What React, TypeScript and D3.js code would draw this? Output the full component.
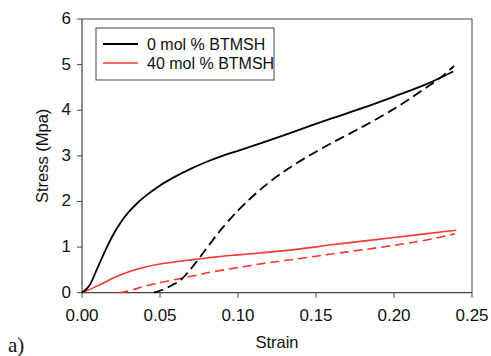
import React from "react";
import * as d3 from "d3";

const blackSolidX = [0, 0.005, 0.01, 0.015, 0.02, 0.025, 0.03, 0.035, 0.04, 0.05, 0.06, 0.07, 0.08, 0.09, 0.1, 0.12, 0.14, 0.16, 0.18, 0.2, 0.22, 0.238];
const blackSolidY = [0, 0.17, 0.55, 0.93, 1.27, 1.55, 1.77, 1.95, 2.1, 2.35, 2.55, 2.72, 2.87, 3.0, 3.11, 3.34, 3.58, 3.82, 4.05, 4.3, 4.56, 4.85];

const blackDashX = [0.046, 0.052, 0.058, 0.063, 0.068, 0.075, 0.08, 0.09, 0.1, 0.11, 0.12, 0.13, 0.14, 0.15, 0.16, 0.17, 0.18, 0.19, 0.2, 0.21, 0.22, 0.23, 0.2385];
const blackDashY = [0, 0.07, 0.17, 0.27, 0.45, 0.75, 0.98, 1.42, 1.8, 2.13, 2.42, 2.67, 2.89, 3.09, 3.28, 3.46, 3.64, 3.83, 4.03, 4.25, 4.48, 4.72, 4.97];

const redSolidX = [0, 0.01, 0.02, 0.03, 0.04, 0.05, 0.06, 0.07, 0.08, 0.09, 0.1, 0.12, 0.14, 0.16, 0.18, 0.2, 0.22, 0.24];
const redSolidY = [0, 0.15, 0.32, 0.46, 0.56, 0.63, 0.68, 0.72, 0.76, 0.8, 0.83, 0.89, 0.96, 1.05, 1.13, 1.21, 1.29, 1.37];

const redDashX = [0.024, 0.03, 0.04, 0.05, 0.06, 0.07, 0.084, 0.1, 0.12, 0.14, 0.16, 0.18, 0.2, 0.22, 0.239];
const redDashY = [0, 0.04, 0.14, 0.22, 0.29, 0.36, 0.46, 0.55, 0.66, 0.75, 0.85, 0.94, 1.04, 1.15, 1.29];

const xTicks = [0, 0.05, 0.1, 0.15, 0.2, 0.25];
const yTicks = [0, 1, 2, 3, 4, 5, 6];
const legendLabels = ["0 mol % BTMSH", "40 mol % BTMSH"];

const W = 491;
const H = 356;
const left = 82, right = 472, top = 19, bottom = 292.7;

export default function App() {
  const x = d3.scaleLinear().domain([0, 0.25]).range([left, right]);
  const y = d3.scaleLinear().domain([0, 6]).range([bottom, top]);
  const line = d3
    .line<[number, number]>()
    .x((d) => x(d[0]))
    .y((d) => y(d[1]))
    .curve(d3.curveMonotoneX);
  const zip = (a: number[], b: number[]) => a.map((v, i) => [v, b[i]] as [number, number]);
  const font = "Liberation Sans, Arial, sans-serif";
  const axisColor = "#444";
  return (
    <svg
      width={W}
      height={H}
      style={{ position: "absolute", left: 0, top: 0, background: "#fff" }}
    >
      <rect x={0} y={0} width={W} height={H} fill="#fff" />
      {/* frame */}
      <line x1={left} y1={top} x2={right} y2={top} stroke={axisColor} strokeWidth={1} />
      <line x1={right} y1={top} x2={right} y2={bottom} stroke={axisColor} strokeWidth={1} />
      <line x1={left} y1={top} x2={left} y2={bottom} stroke={axisColor} strokeWidth={1.2} />
      <line x1={left} y1={bottom} x2={right} y2={bottom} stroke={axisColor} strokeWidth={1.2} />
      {yTicks.map((t) => (
        <g key={"y" + t}>
          <line x1={left - 5} x2={left} y1={y(t)} y2={y(t)} stroke={axisColor} />
          <text
            x={left - 11}
            y={y(t)}
            dy={5}
            textAnchor="end"
            fontFamily={font}
            fontSize={17}
            fill="#111"
          >
            {t}
          </text>
        </g>
      ))}
      {xTicks.map((t) => (
        <g key={"x" + t}>
          <line x1={x(t)} x2={x(t)} y1={bottom} y2={bottom + 5} stroke={axisColor} />
          <text
            x={x(t)}
            y={321}
            textAnchor="middle"
            fontFamily={font}
            fontSize={17}
            fill="#111"
          >
            {t.toFixed(2)}
          </text>
        </g>
      ))}
      <text
        x={(left + right) / 2}
        y={348}
        textAnchor="middle"
        fontFamily={font}
        fontSize={16.5}
        fill="#111"
      >
        Strain
      </text>
      <text
        transform={`translate(48, ${(top + bottom) / 2}) rotate(-90)`}
        textAnchor="middle"
        fontFamily={font}
        fontSize={16.5}
        fill="#111"
      >
        Stress (Mpa)
      </text>
      <text x={8} y={352} fontFamily="Liberation Serif, Times New Roman, serif" fontSize={21} fill="#111">
        a)
      </text>
      {/* curves */}
      <path d={line(zip(redSolidX, redSolidY)) || ""} fill="none" stroke="#f23a2e" strokeWidth={1.6} />
      <path
        d={line(zip(redDashX, redDashY)) || ""}
        fill="none"
        stroke="#f23a2e"
        strokeWidth={1.6}
        strokeDasharray="9,5"
      />
      <path d={line(zip(blackSolidX, blackSolidY)) || ""} fill="none" stroke="#000" strokeWidth={1.8} />
      <path
        d={line(zip(blackDashX, blackDashY)) || ""}
        fill="none"
        stroke="#000"
        strokeWidth={1.8}
        strokeDasharray="10,5"
      />
      {/* legend */}
      <rect x={96} y={28} width={178} height={52} fill="#fff" stroke={axisColor} strokeWidth={1} />
      <line x1={103} x2={138} y1={44} y2={44} stroke="#000" strokeWidth={1.8} />
      <line x1={103} x2={138} y1={63} y2={63} stroke="#f23a2e" strokeWidth={1.6} />
      <text x={147} y={50} fontFamily={font} fontSize={16} fill="#111">
        {legendLabels[0]}
      </text>
      <text x={147} y={69} fontFamily={font} fontSize={16} fill="#111">
        {legendLabels[1]}
      </text>
    </svg>
  );
}
